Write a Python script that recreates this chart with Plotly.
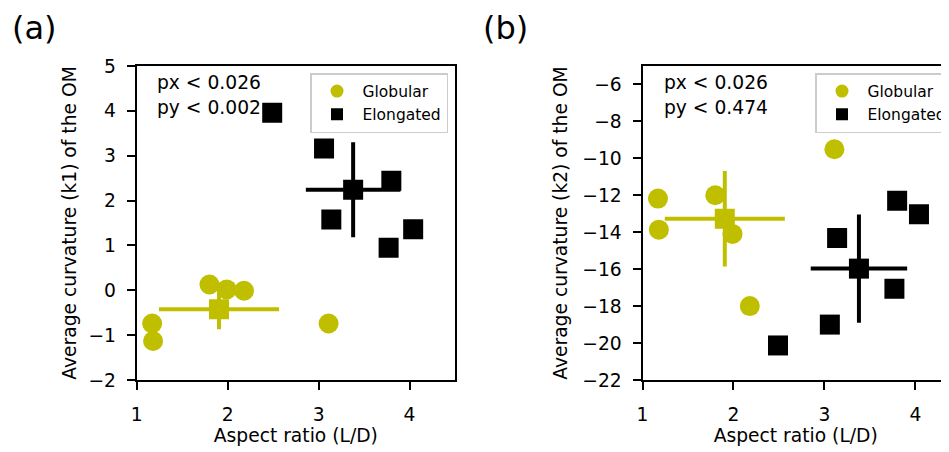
import plotly.graph_objects as go

# The page body adds an 8px margin, so the figure is drawn 8px smaller and
# every reference pixel position is shifted by OFF.
OFF = 8
W, H = 949 - OFF, 452 - OFF
OLIVE = "#bfbf00"
FONT = "DejaVu Sans"

def px(x):
    return (x - OFF) / W

def py(y):
    return 1 - (y - OFF) / H

# ---- data ----
glob_x = [1.17, 1.18, 1.80, 1.99, 2.18, 3.11]
glob_k1 = [-0.74, -1.13, 0.13, 0.02, -0.01, -0.74]
glob_k2 = [-12.18, -13.86, -12.0, -14.09, -18.0, -9.51]

elon_x = [2.49, 3.06, 3.14, 3.80, 3.77, 4.04]
elon_k1 = [3.96, 3.16, 1.58, 2.44, 0.95, 1.36]
elon_k2 = [-20.13, -19.0, -14.31, -12.3, -17.06, -13.03]

# group means and spreads
glob_mean_x = [1.905]
glob_sd_x = [0.66]
glob_mean_k1 = [-0.42]
glob_sd_k1 = [0.45]
glob_mean_k2 = [-13.27]
glob_sd_k2 = [2.58]

elon_mean_x = [3.38]
elon_sd_x_a = [0.52]
elon_sd_x_b = [0.53]
elon_mean_k1 = [2.24]
elon_sd_k1 = [1.06]
elon_mean_k2 = [-15.97]
elon_sd_k2 = [2.93]

p_text_a = ["px < 0.026", "py < 0.002"]
p_text_b = ["px < 0.026", "py < 0.474"]

fig = go.Figure()

def add_panel(xa, ya, gy, ey, gmy, gsy, emy, esy, esx, legend):
    fig.add_trace(go.Scatter(
        x=glob_mean_x, y=gmy, mode="markers", xaxis=xa, yaxis=ya, showlegend=False,
        marker=dict(symbol="square", size=20, color=OLIVE),
        error_x=dict(type="data", array=glob_sd_x, color=OLIVE, thickness=4, width=0),
        error_y=dict(type="data", array=gsy, color=OLIVE, thickness=4, width=0)))
    fig.add_trace(go.Scatter(
        x=elon_mean_x, y=emy, mode="markers", xaxis=xa, yaxis=ya, showlegend=False,
        marker=dict(symbol="square", size=20, color="black"),
        error_x=dict(type="data", array=esx, color="black", thickness=4, width=0),
        error_y=dict(type="data", array=esy, color="black", thickness=4, width=0)))
    fig.add_trace(go.Scatter(
        x=glob_x, y=gy, mode="markers", xaxis=xa, yaxis=ya, showlegend=False,
        marker=dict(symbol="circle", size=20, color=OLIVE, line=dict(width=0))))
    fig.add_trace(go.Scatter(
        x=elon_x, y=ey, mode="markers", xaxis=xa, yaxis=ya, showlegend=False,
        marker=dict(symbol="square", size=20, color="black", line=dict(width=0))))
    fig.add_trace(go.Scatter(
        x=[None], y=[None], mode="markers", xaxis=xa, yaxis=ya, name="Globular",
        legend=legend, marker=dict(symbol="circle", size=13, color=OLIVE)))
    fig.add_trace(go.Scatter(
        x=[None], y=[None], mode="markers", xaxis=xa, yaxis=ya, name="Elongated",
        legend=legend, marker=dict(symbol="square", size=12, color="black")))

add_panel("x", "y", glob_k1, elon_k1, glob_mean_k1, glob_sd_k1,
          elon_mean_k1, elon_sd_k1, elon_sd_x_a, "legend")
add_panel("x2", "y2", glob_k2, elon_k2, glob_mean_k2, glob_sd_k2,
          elon_mean_k2, elon_sd_k2, elon_sd_x_b, "legend2")

axfont = dict(family=FONT, size=18.7, color="black")
common = dict(showgrid=False, zeroline=False, showline=True, linecolor="black",
              linewidth=2, ticks="outside", ticklen=8, tickwidth=2,
              tickcolor="black", tickfont=axfont)

ydom = [py(380), py(66)]
a_left, a_right = 136.7, 455
b_left = 642.5
b_unit = (a_right - a_left) / 3.5

legend_style = dict(xanchor="left", yanchor="top",
                    bgcolor="rgba(255,255,255,0.8)", bordercolor="#cccccc",
                    borderwidth=1.5, font=dict(family=FONT, size=15.5, color="black"),
                    itemwidth=41, tracegroupgap=0)

fig.update_layout(
    width=W, height=H,
    margin=dict(l=0, r=0, t=0, b=0, autoexpand=False),
    paper_bgcolor="white", plot_bgcolor="white",
    font=dict(family=FONT, color="black"),
    xaxis=dict(domain=[px(a_left), px(a_right)], range=[1, 4.5], dtick=1, tick0=0,
               mirror=True, anchor="y", ticklabelstandoff=9,
               title=dict(text="Aspect ratio (L/D)", font=axfont, standoff=4), **common),
    yaxis=dict(domain=ydom, range=[-2, 5], dtick=1, tick0=0, mirror=True, anchor="x",
               ticklabelstandoff=7,
               title=dict(text="Average curvature (k1) of the OM", font=axfont, standoff=7),
               **common),
    xaxis2=dict(domain=[px(b_left), 1.0], range=[1, 1 + (949 - b_left) / b_unit], dtick=1,
                tick0=0, mirror=True, anchor="y2", ticklabelstandoff=9,
                title=dict(text="Aspect ratio (L/D)", font=axfont, standoff=4), **common),
    yaxis2=dict(domain=ydom, range=[-22, -5], dtick=2, tick0=0, mirror=False, anchor="x2",
                ticklabelstandoff=7,
                title=dict(text="Average curvature (k2) of the OM", font=axfont, standoff=10),
                **common),
    legend=dict(x=px(310), y=py(73), **legend_style),
    legend2=dict(x=px(815), y=py(73), **legend_style),
)

annots = []
for t, x in (("(a)", 34), ("(b)", 505)):
    annots.append(dict(text=t, x=px(x), y=py(28), xref="paper", yref="paper",
                       xanchor="center", yanchor="middle", showarrow=False,
                       font=dict(family=FONT, size=32, color="black")))
for texts, x in ((p_text_a, 155), (p_text_b, 662)):
    for i, t in enumerate(texts):
        annots.append(dict(text=t, x=px(x), y=py(83 + 24 * i), xref="paper",
                           yref="paper", xanchor="left", yanchor="middle",
                           showarrow=False,
                           font=dict(family=FONT, size=18.7, color="black")))
fig.update_layout(annotations=annots)

fig.write_html("out.html")
